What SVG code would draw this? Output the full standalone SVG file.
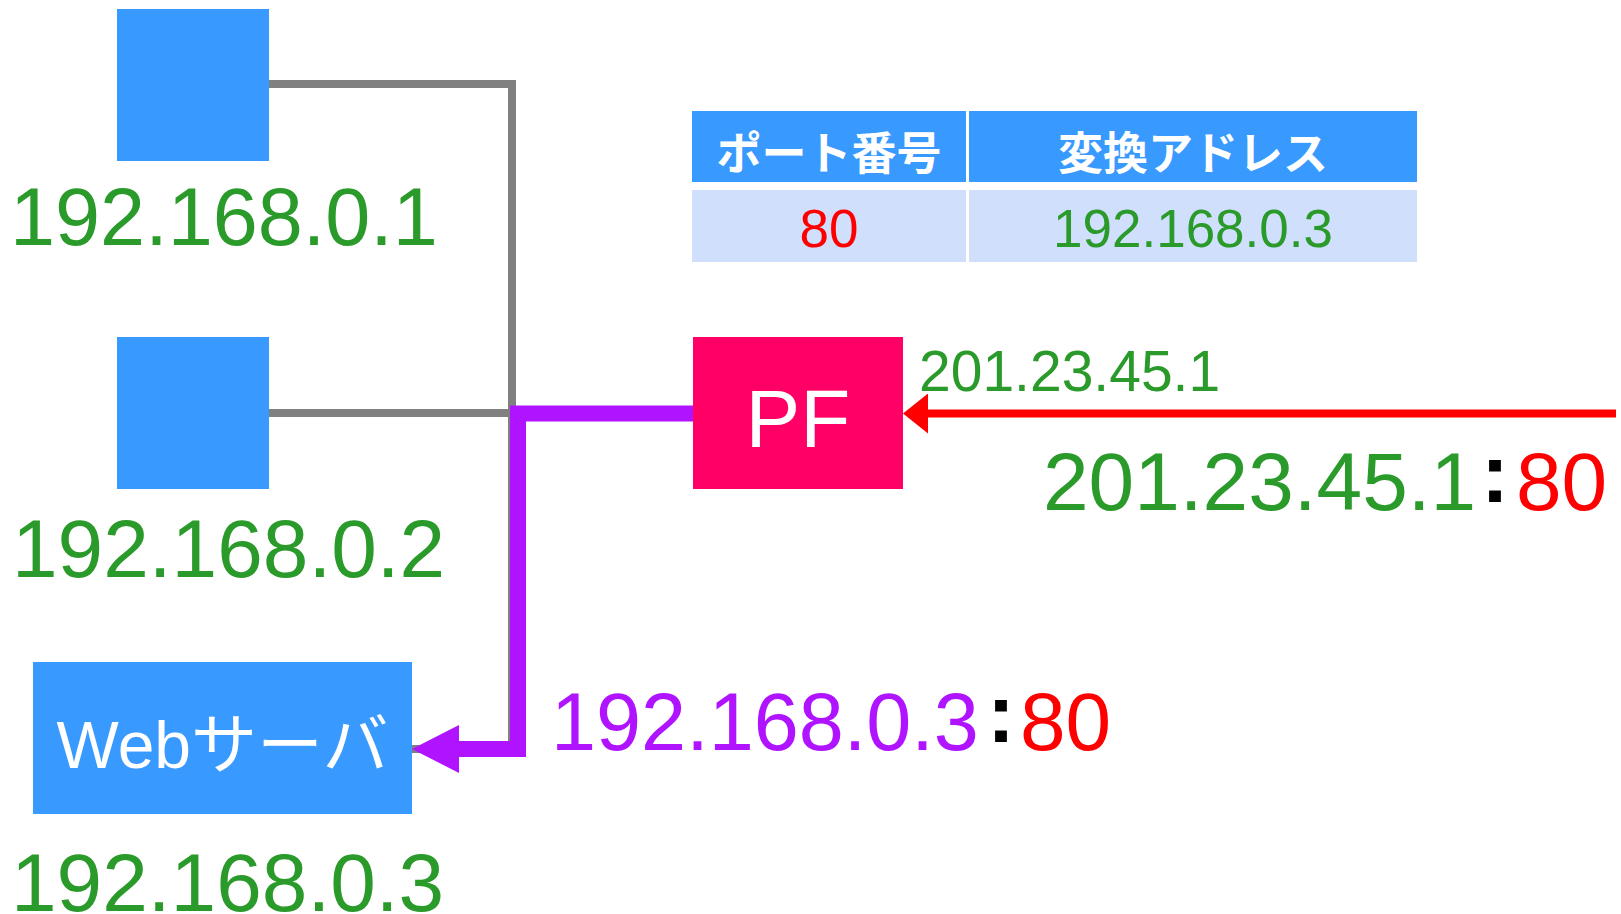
<svg xmlns="http://www.w3.org/2000/svg" width="1621" height="914" viewBox="0 0 1621 914">
<style>
.box{fill:#3899FF}
.ip{font-family:"Liberation Sans",Arial,sans-serif;font-size:82px;fill:#2A9A2A}
.lbl{font-family:"Liberation Sans","Noto Sans CJK JP",sans-serif;fill:#FFFFFF}
.th{font-family:"Noto Sans CJK JP",sans-serif;font-size:45px;font-weight:bold;fill:#FFFFFF;text-anchor:middle}
.td{font-family:"Liberation Sans",Arial,sans-serif;font-size:53px;text-anchor:middle}
.hd{fill:#3899FF}
.rw{fill:#CFDFFC}
.colon{font-family:"Liberation Sans",Arial,sans-serif;font-size:84px;font-weight:bold;fill:#000000}
.port{font-family:"Liberation Sans",Arial,sans-serif;font-size:82px;fill:#FF0000}
</style>
<defs>
<marker id="arrP" markerUnits="userSpaceOnUse" viewBox="0 0 47 48" markerWidth="47" markerHeight="48" refX="0" refY="24" orient="auto">
<path d="M0,0 L47,24 L0,48 Z" fill="#AF13FF"/>
</marker>
<marker id="arrR" markerUnits="userSpaceOnUse" viewBox="0 0 25 40" markerWidth="25" markerHeight="40" refX="0" refY="20" orient="auto">
<path d="M0,0 L25,20 L0,40 Z" fill="#FF0000"/>
</marker>
</defs>
<g id="connectors" fill="none" stroke-linecap="butt" stroke-linejoin="miter">
<path d="M269,84 H512 V749 H412" stroke="#808080" stroke-width="8"/>
<path d="M269,413 H512" stroke="#808080" stroke-width="8"/>
<path d="M693,413.5 H518 V749 H459" stroke="#AF13FF" stroke-width="16" marker-end="url(#arrP)"/>
<path d="M1616,413.5 H928" stroke="#FF0000" stroke-width="8" marker-end="url(#arrR)"/>
<g id="label-wan">
<text class="ip" x="919" y="391" style="font-size:57px">201.23.45.1</text>
<text class="ip" x="1043" y="510">201.23.45.1</text>
<text class="colon" x="1481" y="502">:</text>
<text class="port" x="1516" y="510">80</text>
</g>
<g id="label-lan">
<text class="ip" x="551" y="750" style="fill:#AF13FF;font-size:81px">192.168.0.3</text>
<text class="colon" x="987" y="742">:</text>
<text class="port" x="1020" y="750">80</text>
</g>
</g>
<g id="pc1">
<rect class="box" x="117" y="9" width="152" height="152"/>
<text class="ip" x="10" y="245" style="font-size:81px">192.168.0.1</text>
</g>
<g id="pc2">
<rect class="box" x="117" y="337" width="152" height="152"/>
<text class="ip" x="12" y="577">192.168.0.2</text>
</g>
<g id="web">
<rect class="box" x="33" y="662" width="379" height="152"/>
<text class="lbl" x="222.5" y="768" font-size="66" text-anchor="middle">Webサーバ</text>
<text class="ip" x="11" y="911">192.168.0.3</text>
</g>
<g id="pf">
<rect x="693" y="337" width="210" height="152" fill="#FF0066"/>
<text class="lbl" x="798" y="447" font-size="82" text-anchor="middle">PF</text>
</g>
<g id="table">
<rect class="hd" x="692" y="111" width="274" height="71"/>
<rect class="hd" x="969" y="111" width="448" height="71"/>
<rect class="rw" x="692" y="190" width="274" height="72"/>
<rect class="rw" x="969" y="190" width="448" height="72"/>
<text class="th" x="829" y="170">ポート番号</text>
<text class="th" x="1193" y="170">変換アドレス</text>
<text class="td" x="829" y="247" fill="#FF0000">80</text>
<text class="td" x="1193" y="247" fill="#2A9A2A">192.168.0.3</text>
</g>
</svg>
